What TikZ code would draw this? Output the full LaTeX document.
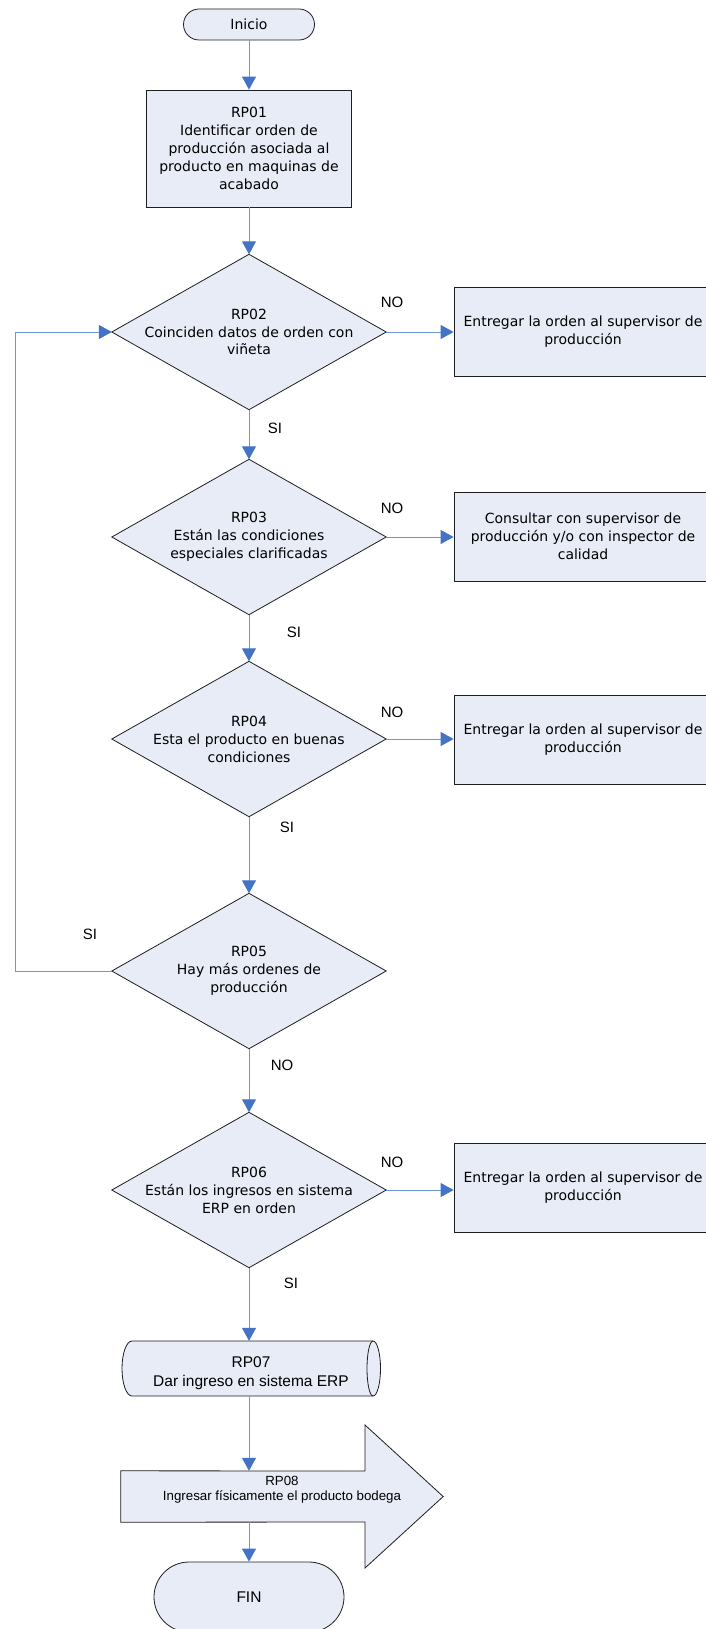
\documentclass[tikz,border=0pt]{standalone}
\usepackage{fontspec}
\setmainfont{DejaVu Sans}
\newfontfamily\arialfont{Liberation Sans}
\usetikzlibrary{arrows.meta,backgrounds}

\definecolor{boxfill}{RGB}{232,236,247}
\definecolor{flowline}{RGB}{110,150,214}
\definecolor{flowhead}{RGB}{68,114,196}
\definecolor{outline}{RGB}{30,30,30}

\begin{document}
\begin{tikzpicture}[
  x=1pt, y=-1pt,
  every node/.style={font=\fontsize{14}{17.9}\selectfont},
  procbox/.style={draw=outline, fill=boxfill, line width=0.8pt, align=center, inner sep=0pt},
  decision/.style={align=center, inner sep=0pt, minimum width=274pt, minimum height=155pt},
  sidebox/.style={procbox, minimum width=258pt, minimum height=89pt},
  shapeline/.style={draw=outline, fill=boxfill, line width=0.8pt},
  flow/.style={draw=flowline, line width=1pt, -{Triangle[length=13pt,width=14pt,color=flowhead]}},
  lbl/.style={font=\arialfont\fontsize{15}{18}\selectfont}
]
\useasboundingbox (0,0) rectangle (706,1629);

% start / process
\node[procbox, rounded corners=15.5pt, minimum width=131pt, minimum height=31pt] (inicio) at (249,24.5) {Inicio};
\node[procbox, minimum width=205pt, minimum height=117pt] (rp01) at (249,148.5)
  {RP01\\Identificar orden de\\producción asociada al\\producto en maquinas de\\acabado};

% decisions (diamond outlines are drawn on the background layer)
\node[decision] (rp02) at (249,332) {RP02\\Coinciden datos de orden con\\viñeta};
\node[decision] (rp03) at (249,537) {RP03\\Están las condiciones\\especiales clarificadas};
\node[decision] (rp04) at (249,739) {RP04\\Esta el producto en buenas\\condiciones};
\node[decision] (rp05) at (249,971) {RP05\\Hay más ordenes de\\producción};
\node[decision] (rp06) at (249,1190) {RP06\\Están los ingresos en sistema\\ERP en orden};

% side actions
\node[sidebox] (nb1) at (583,331.5) {Entregar la orden al supervisor de\\producción};
\node[sidebox] (nb2) at (583,536.5) {Consultar con supervisor de\\producción y/o con inspector de\\calidad};
\node[sidebox] (nb3) at (583,740) {Entregar la orden al supervisor de\\producción};
\node[sidebox] (nb4) at (583,1187.5) {Entregar la orden al supervisor de\\producción};

% ERP entry (stored data) and physical entry (arrow)
\node[inner sep=0pt, minimum width=260pt, minimum height=55pt,
      font=\arialfont\fontsize{15.5}{18.7}\selectfont] (rp07) at (251,1368.5)
  {\raisebox{-8pt}[0pt][0pt]{\begin{tabular}{@{}c@{}}RP07\\Dar ingreso en sistema ERP\end{tabular}}};
\node[align=center, inner sep=0pt, minimum width=322pt, minimum height=51pt,
      font=\arialfont\fontsize{13.3}{15}\selectfont] (rp08) at (282,1496.5)
  {RP08\\Ingresar físicamente el producto bodega\\[2pt]};

% end
\node[procbox, rounded corners=35pt, minimum width=190pt, minimum height=70pt,
      font=\arialfont\fontsize{15.5}{19}\selectfont] (fin) at (249,1597) {FIN};

\begin{scope}[on background layer]
  \foreach \d in {rp02,rp03,rp04,rp05,rp06}
    \path[shapeline] (\d.north) -- (\d.east) -- (\d.south) -- (\d.west) -- cycle;
  % cylinder lying on its side
  \path[shapeline] (132,1341) -- (373,1341)
      arc[start angle=90, end angle=-90, x radius=7.5pt, y radius=27.5pt]
      -- (132,1396)
      arc[start angle=270, end angle=90, x radius=10pt, y radius=27.5pt] -- cycle;
  \draw[outline, line width=0.8pt] (373,1341)
      arc[start angle=90, end angle=270, x radius=6pt, y radius=27.5pt];
  % block arrow
  \path[shapeline] (rp08.north west) -- (365,1471) -- (365,1425) -- (rp08.east)
      -- (365,1568) -- (365,1522) -- (rp08.south west) -- cycle;
\end{scope}

% connectors
\draw[flow] (inicio.south) -- (rp01.north);
\draw[flow] (rp01.south) -- (rp02.north);
\draw[flow] (rp02.south) -- (rp03.north);
\draw[flow] (rp03.south) -- (rp04.north);
\draw[flow] (rp04.south) -- (rp05.north);
\draw[flow] (rp05.south) -- (rp06.north);
\draw[flow] (rp06.south) -- (rp06.south |- rp07.north);
\draw[flow] (rp06.south |- rp07.south) -- (rp06.south |- rp08.north);
\draw[flow] (rp06.south |- rp08.south) -- (fin.north);

\draw[flow] (rp02.east) -- (rp02.east -| nb1.west);
\draw[flow] (rp03.east) -- (rp03.east -| nb2.west);
\draw[flow] (rp04.east) -- (rp04.east -| nb3.west);
\draw[flow] (rp06.east) -- (rp06.east -| nb4.west);

\coordinate (loopx) at (15,0);
\draw[flow] (rp05.west) -- (rp05.west -| loopx) |- (rp02.west);

% branch labels
\node[lbl] (l1) at (392,302) {NO};
\node[lbl] (l2) at (275,428) {SI};
\node[lbl] (l3) at (392,508) {NO};
\node[lbl] (l4) at (294,632) {SI};
\node[lbl] (l5) at (392,712) {NO};
\node[lbl] (l6) at (287,827) {SI};
\node[lbl] (l7) at (90,934) {SI};
\node[lbl] (l8) at (282,1065) {NO};
\node[lbl] (l9) at (392,1162) {NO};
\node[lbl] (l10) at (291,1283) {SI};
\end{tikzpicture}
\end{document}
